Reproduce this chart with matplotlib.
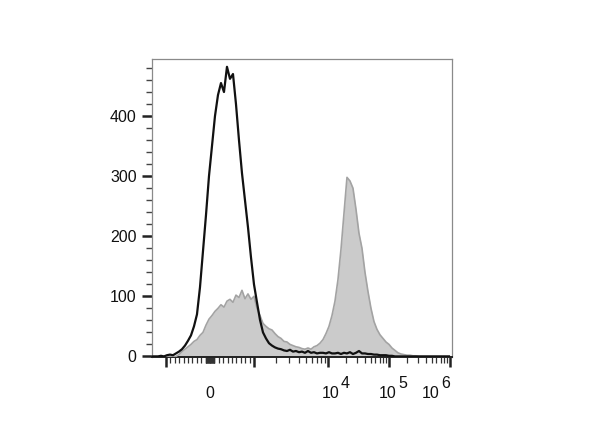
import numpy as np
import matplotlib
matplotlib.use("Agg")
import matplotlib.pyplot as plt
import matplotlib.transforms as mtransforms

plt.rcParams['font.family'] = ['Liberation Sans', 'DejaVu Sans']

# histogram channels (display units, 0..300 across the axis)
channels = np.arange(0, 300, 3)

control_counts = [0, 0, 0, 1, 0, 2, 3, 2, 5, 8,
                  12, 18, 26, 35, 50, 70, 115, 175, 235, 300,
                  350, 400, 435, 455, 440, 482, 462, 470, 420, 360,
                  305, 260, 215, 165, 120, 90, 61, 40, 30, 22,
                  18, 15, 13, 12, 10, 9, 11, 8, 9, 7,
                  8, 6, 9, 6, 7, 5, 6, 6, 5, 7,
                  5, 5, 6, 4, 6, 5, 7, 4, 6, 9,
                  5, 5, 4, 4, 3, 3, 2, 2, 2, 1,
                  1, 0, 0, 0, 0, 0, 0, 0, 0, 0,
                  0, 0, 0, 0, 0, 0, 0, 0, 0, 0]

stained_counts = [0, 0, 0, 0, 0, 0, 0, 0, 0, 3,
                  8, 12, 16, 20, 25, 28, 35, 40, 52, 62,
                  68, 75, 80, 86, 82, 92, 95, 90, 102, 98,
                  110, 96, 104, 95, 100, 80, 68, 55, 50, 46,
                  44, 38, 33, 30, 25, 24, 20, 18, 16, 15,
                  13, 12, 14, 12, 16, 18, 22, 28, 38, 50,
                  68, 92, 128, 178, 238, 298, 292, 280, 245, 205,
                  180, 140, 108, 80, 58, 45, 36, 30, 24, 20,
                  14, 10, 6, 4, 3, 2, 2, 1, 1, 0,
                  0, 0, 0, 0, 0, 0, 0, 0, 0, 0]

y_major = [0, 100, 200, 300, 400]
y_minor = [20, 40, 60, 80, 120, 140, 160, 180, 220, 240, 260, 280,
           320, 340, 360, 380, 420, 440, 460, 480]

x_major_values = [-1e3, 1e3, 1e4, 1e5, 1e6]
x_label_values = [1e4, 1e5, 1e6]
x_label_exponents = ['4', '5', '6']
x_minor_values = ([-900, -800, -700, -600, -500, -400, -300, -200, -100] +
                  list(range(-90, 100, 10)) +
                  [100, 200, 300, 400, 500, 600, 700, 800, 900] +
                  [k * 10 ** d for d in (3, 4, 5) for k in range(2, 10)])


def to_axis(v):
    """biexponential-like display position of a fluorescence value"""
    v = float(v)
    if abs(v) <= 1000:
        return 58 + v * 0.044
    d = np.log10(v)
    if d <= 4:
        return 102 + 74 * (d - 3)
    return 176 + 61 * (d - 4)


fig = plt.figure(figsize=(6, 4.48), dpi=100)
ax = fig.add_axes([0.2533, 0.2031, 0.5, 0.6652])

ax.fill_between(channels, stained_counts, 0, color='#cbcbcb', lw=0, zorder=2)
ax.plot(channels, stained_counts, color='#a3a3a3', lw=1.2, zorder=3)
ax.plot(channels, control_counts, color='#111111', lw=1.6, zorder=4)

ax.set_xlim(0, 300)
ax.set_ylim(-1, 495)

for side in ('top', 'right', 'left'):
    ax.spines[side].set_color('#8a8a8a')
    ax.spines[side].set_linewidth(0.9)
ax.spines['bottom'].set_color('#222222')
ax.spines['bottom'].set_linewidth(1.4)

# y ticks
ax.set_yticks(y_major)
ax.set_yticks(y_minor, minor=True)
ax.tick_params(axis='y', which='major', direction='out', length=7, width=1.8,
               color='#222222', labelsize=11.5, pad=4, labelcolor='#111111')
ax.tick_params(axis='y', which='minor', direction='out', length=4, width=1.0,
               color='#444444')

# x ticks
ax.set_xticks([to_axis(v) for v in x_major_values])
ax.set_xticks([to_axis(v) for v in x_minor_values], minor=True)
ax.tick_params(axis='x', which='major', direction='out', length=7, width=1.8,
               color='#222222', labelbottom=False)
ax.tick_params(axis='x', which='minor', direction='out', length=4, width=0.9,
               color='#333333')

label_trans = mtransforms.blended_transform_factory(ax.transData, ax.transAxes)
fs = 11.5
ax.text(to_axis(0), -0.121, '0', transform=label_trans,
        ha='center', va='center', fontsize=fs, color='#111111')
base_offsets = [12, 8, -10]
for v, e, off in zip(x_label_values, x_label_exponents, base_offsets):
    xr = to_axis(v) + off
    ax.text(xr, -0.121, '10', transform=label_trans,
            ha='right', va='center', fontsize=fs, color='#111111')
    ax.text(xr + 1, -0.088, e, transform=label_trans,
            ha='left', va='center', fontsize=fs, color='#111111')

fig.savefig('out.png', dpi=100)
